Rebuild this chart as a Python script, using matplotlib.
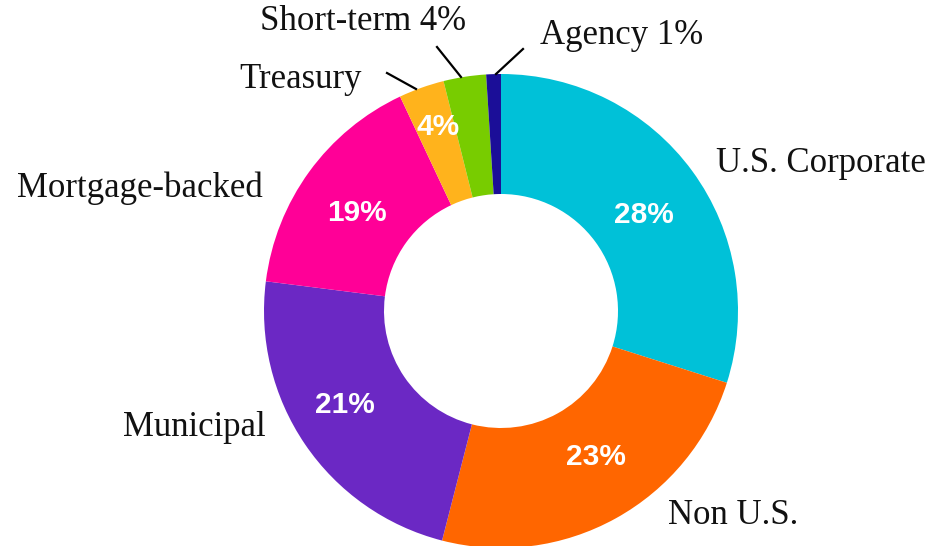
import matplotlib
matplotlib.use("Agg")
import matplotlib.pyplot as plt

# ---- data ----
categories = ["U.S. Corporate", "Non U.S.", "Municipal", "Mortgage-backed",
              "Treasury", "Short-term", "Agency"]
slice_values = [29.9, 24.1, 23.0, 16.0, 3.1, 2.9, 1.0]
pct_labels = ["28%", "23%", "21%", "19%", "4%", "4%", "1%"]
colors = ["#00C1D8", "#FF6600", "#6B28C4", "#FF0097", "#FFB31C", "#78CC00", "#1B0E98"]

W, H = 944, 546
fig = plt.figure(figsize=(W / 100, H / 100), dpi=100)
ax = fig.add_axes([0, 0, 1, 1])

def py(y):  # pixel-from-top to data y
    return H - y

cx, cy, R, r_in = 501, py(311), 237, 117
wedges, _ = ax.pie(slice_values, colors=colors, startangle=90, counterclock=False,
                   center=(cx, cy), radius=R,
                   wedgeprops=dict(width=R - r_in, linewidth=0))
ax.set_xlim(0, W)
ax.set_ylim(0, H)
ax.set_aspect("equal")
ax.axis("off")

serif = dict(family="Liberation Serif", fontsize=25, color="#111111", va="center")
bold = dict(family="Liberation Sans", fontsize=21.5, fontweight="bold",
            color="white", ha="center", va="center")

# inner percentage labels (pixel positions)
inner_pos = {0: (644, 215), 1: (596, 457), 2: (345, 405), 3: (357, 213), 4: (438, 127)}
for i, (x, y) in inner_pos.items():
    ax.text(x, py(y), pct_labels[i], **bold)

# outer category labels
ax.text(716, py(163), categories[0], ha="left", **serif)
ax.text(668, py(515), categories[1], ha="left", **serif)
ax.text(266, py(427), categories[2], ha="right", **serif)
ax.text(263, py(188), categories[3], ha="right", **serif)
ax.text(362, py(80), categories[4], ha="right", **serif)
ax.text(466, py(22), f"{categories[5]} {pct_labels[5]}", ha="right", **serif)
ax.text(540, py(36), f"{categories[6]} {pct_labels[6]}", ha="left", **serif)

# leader lines
for (x0, y0), (x1, y1) in [((387, 73), (416, 89)),
                           ((437, 47), (461, 77)),
                           ((523, 49), (496, 74))]:
    ax.plot([x0, x1], [py(y0), py(y1)], color="black", lw=1.6)

fig.savefig("out.png", dpi=100)
